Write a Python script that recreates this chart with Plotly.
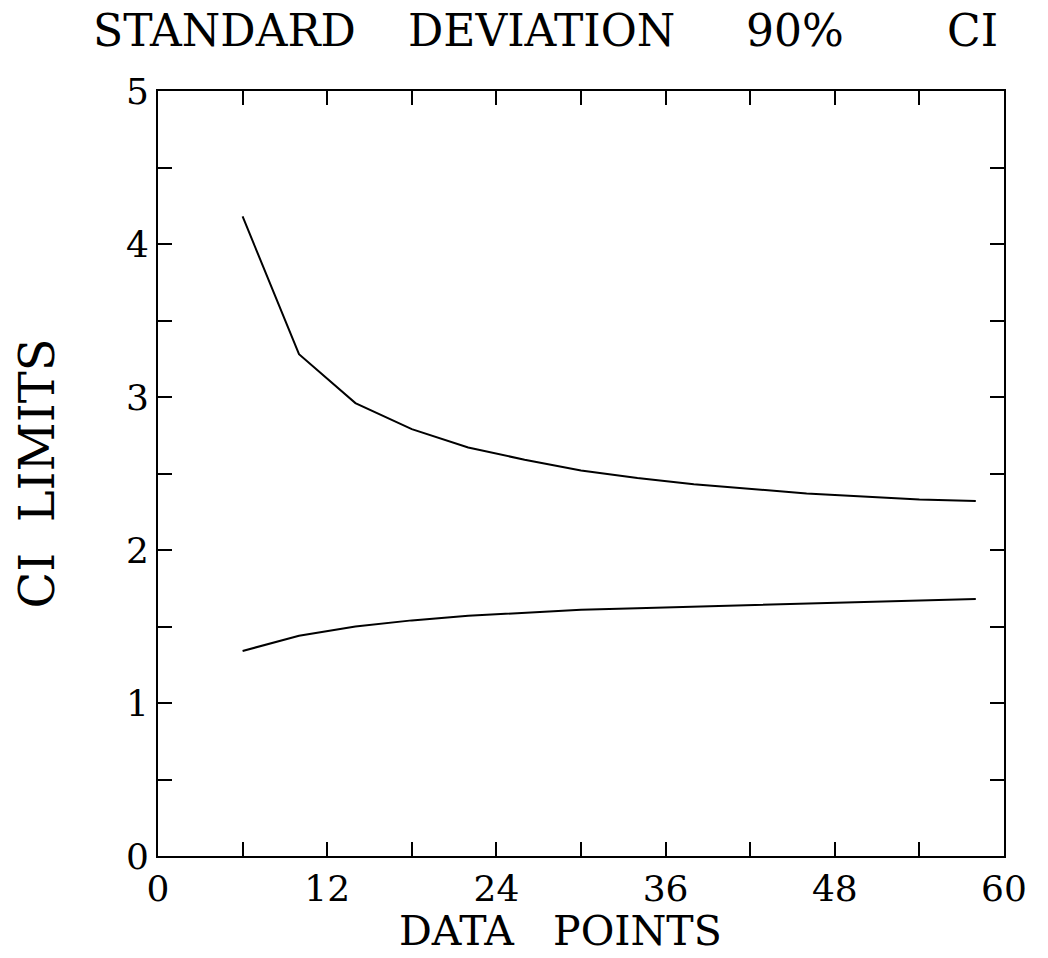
import plotly.graph_objects as go

# Data
data_points = [6, 10, 14, 18, 22, 26, 30, 34, 38, 42, 46, 50, 54, 58]
upper_limit = [4.18, 3.28, 2.96, 2.79, 2.67, 2.59, 2.52, 2.47, 2.43, 2.40, 2.37, 2.35, 2.33, 2.32]
lower_limit = [1.34, 1.44, 1.50, 1.54, 1.57, 1.59, 1.61, 1.62, 1.63, 1.64, 1.65, 1.66, 1.67, 1.68]

x_tickvals = [0, 6, 12, 18, 24, 30, 36, 42, 48, 54, 60]
x_ticktext = ["0", "", "12", "", "24", "", "36", "", "48", "", "60"]
y_tickvals = [0, 0.5, 1, 1.5, 2, 2.5, 3, 3.5, 4, 4.5, 5]
y_ticktext = ["0", "", "1", "", "2", "", "3", "", "4", "", "5"]

FONT = "DejaVu Serif"
NB = "\u00a0"

fig = go.Figure()
for ys in (upper_limit, lower_limit):
    fig.add_trace(go.Scatter(x=data_points, y=ys, mode="lines",
                             line=dict(color="black", width=2), showlegend=False))

axis_common = dict(showgrid=False, zeroline=False, showline=True, linecolor="black",
                   linewidth=2, mirror="allticks", ticks="inside", ticklen=14,
                   tickwidth=2, tickcolor="black", automargin=False,
                   tickfont=dict(family=FONT, size=36, color="black"))

fig.update_xaxes(range=[0, 60], tickvals=x_tickvals, ticktext=x_ticktext, **axis_common)
fig.update_yaxes(range=[0, 5], tickvals=y_tickvals, ticktext=y_ticktext,
                 title=dict(text="CI" + NB * 2 + "LIMITS",
                            font=dict(family=FONT, size=48, color="black"),
                            standoff=56),
                 **axis_common)

L, R, T, B = 158, 44, 91, 102
W, H = 1048, 958
pw = W - L - R
ph = H - T - B

# x-axis title as annotation (below the tick labels)
fig.add_annotation(text="DATA" + NB * 3 + "POINTS", xref="paper", yref="paper",
                   x=(560 - L) / pw, y=-(931 - (H - B)) / ph,
                   xanchor="center", yanchor="middle", showarrow=False,
                   font=dict(family=FONT, size=41, color="black"))

# Title words placed individually to reproduce the wide spacing
title_words = [("STANDARD", 224), ("DEVIATION", 541), ("90%", 795), ("CI", 972)]
for word, px in title_words:
    fig.add_annotation(text=word, xref="paper", yref="paper",
                       x=(px - L) / pw, y=1 + (T - 30) / ph,
                       xanchor="center", yanchor="middle", showarrow=False,
                       font=dict(family=FONT, size=44, color="black"))

fig.update_layout(width=W, height=H, margin=dict(l=L, r=R, t=T, b=B, autoexpand=False),
                  plot_bgcolor="white", paper_bgcolor="white")

fig.write_html("out.html")
